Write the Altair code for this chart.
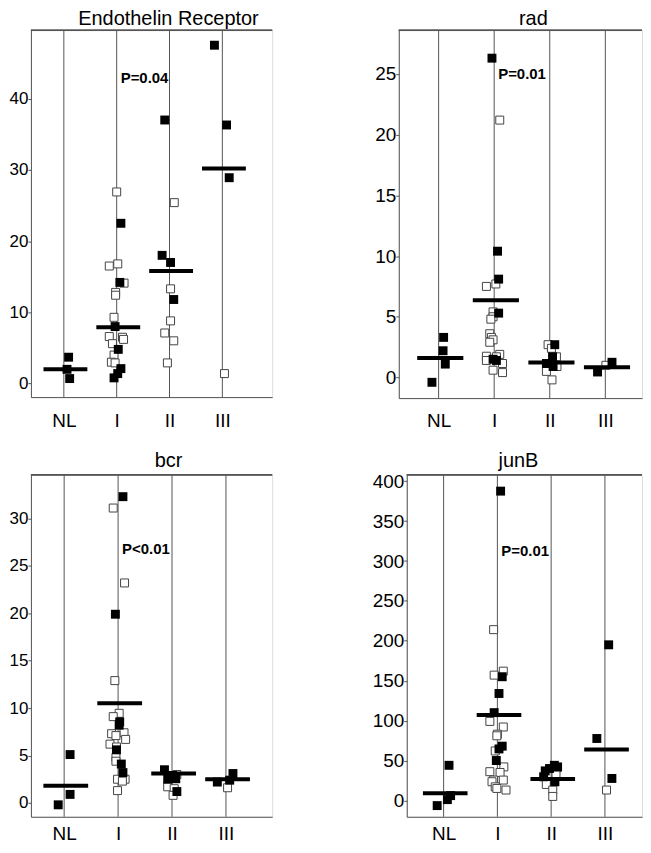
import altair as alt
import pandas as pd

CATS = ["NL", "I", "II", "III"]
FONT = "Liberation Sans"

# ---------------- Endothelin Receptor ----------------
er_group = ["NL"] * 3 + ["I"] * 21 + ["II"] * 10 + ["III"] * 4
er_value = [3.7, 2.0, 0.7,
            26.9, 22.5, 16.8, 16.5, 14.2, 14.1, 12.8, 12.4, 9.3, 8.0, 6.6, 6.5, 6.2, 5.6, 4.8, 4.0, 3.0, 2.9, 2.1, 1.4, 0.8,
            37.0, 25.4, 18.0, 17.0, 13.3, 11.8, 8.8, 7.1, 6.0, 2.9,
            47.5, 36.3, 28.9, 1.4]
er_filled = [1, 1, 1,
             0, 1, 0, 0, 1, 0, 0, 0, 0, 1, 0, 0, 0, 0, 1, 0, 0, 0, 1, 1, 1,
             1, 0, 1, 1, 0, 1, 0, 0, 0, 0,
             1, 1, 1, 0]
er_jitter = [0.09, 0.06, 0.11,
             0.0, 0.08, 0.02, -0.14, 0.06, 0.14, -0.02, -0.02, -0.05, -0.03, -0.14, 0.11, 0.13, -0.08, 0.03, -0.05, -0.10, -0.03, 0.08, 0.02, -0.05,
             -0.09, 0.09, -0.14, 0.02, 0.02, 0.08, 0.02, -0.09, 0.08, -0.04,
             -0.15, 0.08, 0.13, 0.04]
er_mean = [2.0, 7.9, 15.8, 30.2]
er_p = ("P=0.04", 42.9)
er_yticks = [0, 10, 20, 30, 40]

# ---------------- rad ----------------
rad_group = ["NL"] * 4 + ["I"] * 23 + ["II"] * 10 + ["III"] * 3
rad_value = [3.3, 2.2, 1.1, -0.4,
             26.3, 21.2, 10.4, 8.1, 7.7, 7.5, 5.4, 5.3, 5.0, 4.8, 3.6, 3.3, 3.1, 2.9, 1.9, 1.75, 1.7, 1.5, 1.4, 1.4, 1.15, 0.6, 0.4,
             2.7, 2.7, 2.4, 1.7, 1.7, 1.15, 0.9, 0.9, 0.5, -0.2,
             1.0, 0.45, 1.25]
rad_filled = [1, 1, 1, 1,
              1, 0, 1, 1, 0, 0, 0, 1, 0, 0, 0, 0, 0, 0, 0, 0, 0, 1, 1, 0, 0, 0, 0,
              0, 1, 0, 1, 0, 1, 1, 0, 0, 0,
              0, 1, 1]
rad_jitter = [0.09, 0.08, 0.12, -0.12,
              -0.04, 0.10, 0.06, 0.08, 0.03, -0.14, -0.02, 0.08, -0.02, -0.06, -0.08, -0.05, -0.02, -0.08, 0.10, -0.14, 0.04, -0.02, 0.04, -0.14, 0.15, -0.02, 0.15,
              -0.03, 0.09, 0.03, 0.05, 0.12, -0.06, 0.06, 0.13, -0.06, 0.04,
              0.01, -0.14, 0.12]
rad_mean = [1.6, 6.36, 1.23, 0.85]
rad_p = ("P=0.01", 25.0)
rad_yticks = [0, 5, 10, 15, 20, 25]

# ---------------- bcr ----------------
bcr_group = ["NL"] * 3 + ["I"] * 24 + ["II"] * 9 + ["III"] * 4
bcr_value = [5.1, 0.9, -0.2,
             32.3, 31.1, 23.2, 19.9, 12.9, 9.45, 9.1, 8.55, 8.2, 7.3, 7.4, 7.1, 6.7, 6.2, 5.9, 5.6, 4.8, 4.4, 4.1, 3.2, 2.5, 2.5, 2.3, 1.3,
             3.5, 2.9, 2.5, 2.55, 3.0, 1.7, 1.5, 1.2, 0.8,
             2.2, 3.1, 2.4, 1.6]
bcr_filled = [1, 1, 1,
              1, 0, 0, 1, 0, 0, 0, 1, 1, 0, 0, 0, 0, 0, 0, 1, 0, 0, 1, 1, 0, 0, 0, 0,
              1, 1, 1, 1, 0, 0, 0, 1, 0,
              1, 1, 1, 0]
bcr_jitter = [0.11, 0.11, -0.11,
              0.09, -0.09, 0.12, -0.05, -0.06, 0.02, -0.09, 0.03, 0.02, -0.12, 0.11, -0.04, 0.14, -0.15, -0.03, -0.03, -0.04, -0.04, 0.06, 0.09, -0.01, 0.13, 0.08, -0.01,
              -0.14, 0.01, -0.08, 0.07, 0.09, -0.08, 0.04, 0.09, 0.02,
              -0.16, 0.13, 0.07, 0.03]
bcr_mean = [1.8, 10.5, 3.1, 2.5]
bcr_p = ("P<0.01", 26.8)
bcr_yticks = [0, 5, 10, 15, 20, 25, 30]

# ---------------- junB ----------------
junb_group = ["NL"] * 4 + ["I"] * 24 + ["II"] * 11 + ["III"] * 4
junb_value = [44, 6, 1, -6.5,
              387.6, 214, 162, 157, 155, 134, 110, 99, 92, 83, 81, 68, 64.5, 62, 50, 42, 36, 35, 25.5, 25.5, 23.4, 17, 15, 13,
              44, 40, 37, 42, 41, 32, 29.6, 23.4, 20, 13, 5,
              195, 77.6, 27.5, 13]
junb_filled = [1, 1, 1, 1,
               1, 0, 0, 0, 1, 1, 1, 0, 0, 0, 0, 1, 1, 0, 1, 0, 0, 0, 0, 0, 0, 0, 0, 0,
               1, 1, 1, 1, 0, 0, 1, 1, 0, 0, 0,
               1, 1, 1, 0]
junb_jitter = [0.10, 0.13, 0.07, -0.12,
               0.06, -0.07, 0.11, -0.06, 0.09, 0.03, -0.06, -0.14, 0.11, 0.0, -0.01, 0.09, 0.03, -0.04, -0.02, 0.12, -0.14, 0.05, -0.07, 0.11, -0.10, -0.04, -0.01, 0.16,
               0.06, -0.03, -0.11, 0.12, 0.11, 0.09, -0.14, 0.07, -0.09, 0.03, 0.03,
               0.07, -0.15, 0.13, 0.03]
junb_mean = [9, 107, 26.7, 63.7]
junb_p = ("P=0.01", 312)
junb_yticks = [0, 50, 100, 150, 200, 250, 300, 350, 400]

LINE = "#555555"


def panel(name, groups, values, filled, jitter, means, ptxt, yticks,
          xdom, ydom, w, h, title_x, title_y, ylab_size, xlab_pad):
    pts = pd.DataFrame({
        "group": groups,
        "value": values,
        "filled": filled,
        "pos": [CATS.index(g) + 1 + j for g, j in zip(groups, jitter)],
    })
    mean_df = pd.DataFrame({"group": CATS, "mean": means, "pos": [1, 2, 3, 4]})
    cat_df = pd.DataFrame({"group": CATS, "pos": [1, 2, 3, 4]})
    p_df = pd.DataFrame({"group": ["I"], "pos": [2], "value": [ptxt[1]], "label": [ptxt[0]]})

    xscale = alt.Scale(domain=xdom, nice=False, zero=False)
    yscale = alt.Scale(domain=ydom, nice=False, zero=False)
    xaxis = alt.Axis(values=[1, 2, 3, 4], labelExpr="['NL','I','II','III'][datum.value-1]",
                     ticks=False, grid=False, title=None, labelFontSize=19, labelPadding=xlab_pad,
                     domainColor=LINE, labelColor="black", labelFlush=False, labelFont=FONT)
    yaxis = alt.Axis(values=yticks, grid=False, title=None, tickSize=3, labelPadding=0,
                     labelFontSize=ylab_size, domainColor=LINE, tickColor=LINE, labelColor="black",
                     labelFlush=False, labelFont=FONT)

    vlines = alt.Chart(cat_df).mark_rule(color=LINE, strokeWidth=1).encode(
        x=alt.X("pos:Q", scale=xscale, axis=xaxis),
        y=alt.value(0), y2=alt.value(h))
    topline = alt.Chart(cat_df).mark_rule(color=LINE, strokeWidth=1).encode(
        x=alt.value(0), x2=alt.value(w), y=alt.value(0))
    open_pts = alt.Chart(pts).transform_filter("datum.filled == 0").mark_square(
        size=64, filled=True, fill="white", stroke="#444444", strokeWidth=1, opacity=1).encode(
        x=alt.X("pos:Q", scale=xscale, axis=xaxis),
        y=alt.Y("value:Q", scale=yscale, axis=yaxis))
    fill_pts = alt.Chart(pts).transform_filter("datum.filled == 1").mark_square(
        size=80, filled=True, color="black", opacity=1).encode(
        x=alt.X("pos:Q", scale=xscale, axis=xaxis),
        y=alt.Y("value:Q", scale=yscale, axis=yaxis))
    bars = alt.Chart(mean_df).transform_calculate(
        x1="datum.pos - 0.385", x2="datum.pos + 0.445").mark_rule(
        color="black", strokeWidth=4, strokeCap="butt").encode(
        x=alt.X("x1:Q", scale=xscale, axis=xaxis), x2="x2:Q",
        y=alt.Y("mean:Q", scale=yscale, axis=yaxis))
    ptext = alt.Chart(p_df).mark_text(align="left", baseline="middle", dx=4, fontSize=15,
                                      fontWeight="bold", font=FONT, color="black").encode(
        x=alt.X("pos:Q", scale=xscale, axis=xaxis),
        y=alt.Y("value:Q", scale=yscale, axis=yaxis), text="label:N")
    title = alt.Chart(cat_df.head(1)).mark_text(align="center", baseline="alphabetic",
                                              fontSize=20, font=FONT, color="black").encode(
        x=alt.value(title_x), y=alt.value(title_y), text=alt.value(name))
    return alt.layer(vlines, topline, open_pts, fill_pts, bars, ptext, title).properties(
        width=w, height=h)


p1 = panel("Endothelin Receptor", er_group, er_value, er_filled, er_jitter, er_mean, er_p,
           er_yticks, [0.377, 4.943], [-1.9, 49.6], 242, 368, 138, -5, 17, 14)
p2 = panel("rad", rad_group, rad_value, rad_filled, rad_jitter, rad_mean, rad_p,
           rad_yticks, [0.283, 4.66], [-1.7, 28.6], 244, 369, 135, -5, 19, 14)
p3 = panel("bcr", bcr_group, bcr_value, bcr_filled, bcr_jitter, bcr_mean, bcr_p,
           bcr_yticks, [0.384, 4.857], [-1.46, 34.6], 242, 343, 138, -8, 17, 8)
p4 = panel("junB", junb_group, junb_value, junb_filled, junb_jitter, junb_mean, junb_p,
           junb_yticks, [0.314, 4.69], [-20.5, 408], 236, 343, 112, -8, 19, 8)

row1 = alt.hconcat(p1, p2, spacing=127, bounds="flush")
row2 = alt.hconcat(p3, p4, spacing=135, bounds="flush")

chart = alt.vconcat(row1, row2, spacing=18).properties(
    padding={"left": 0, "top": -1, "right": 0, "bottom": 0}
).configure_view(stroke=None).configure(font=FONT)

chart.save("out.html", embed_options={"renderer": "svg", "actions": False})
